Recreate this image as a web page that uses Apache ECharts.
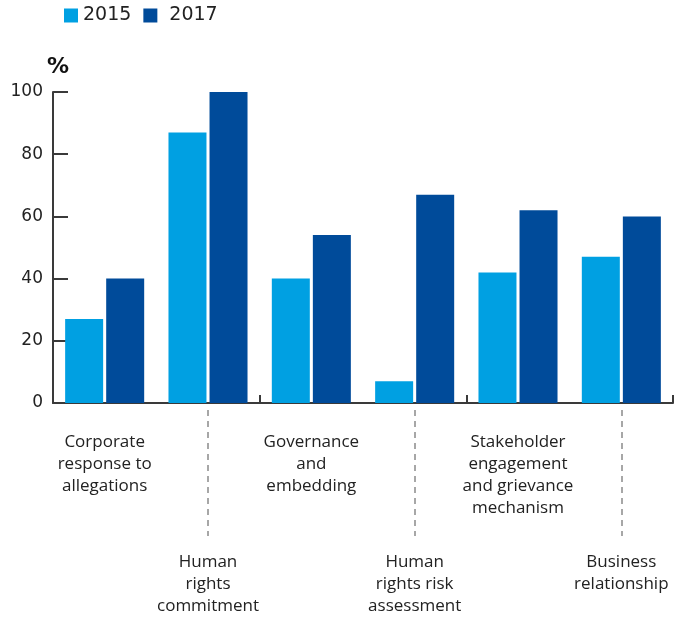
<!DOCTYPE html>
<html>
<head>
<meta charset="utf-8">
<script src="https://cdn.jsdelivr.net/npm/echarts@6/dist/echarts.min.js"></script>
<style>
  html, body { margin: 0; padding: 0; background: #fff; }
  #chart { width: 675px; height: 618px; }
</style>
</head>
<body>
<div id="chart"></div>
<script>
// Human rights assessment scores by theme, 2015 vs 2017 (%)
const categories = [
  'Corporate\nresponse to\nallegations',
  'Human\nrights\ncommitment',
  'Governance\nand\nembedding',
  'Human\nrights risk\nassessment',
  'Stakeholder\nengagement\nand grievance\nmechanism',
  'Business\nrelationship'
];
const seriesNames = ['2015', '2017'];
const values2015 = [27, 87, 40, 7, 42, 47];
const values2017 = [40, 100, 54, 67, 62, 60];
const yTicks = { min: 0, max: 100, interval: 20 };

const chart = echarts.init(document.getElementById('chart'), null, { renderer: 'canvas' });

const labelFont = { fontFamily: 'Open Sans', fontSize: 17, color: '#222', lineHeight: 22 };

chart.setOption({
  animation: false,
  legend: {
    left: 64,
    top: 6,
    padding: 0,
    itemWidth: 14,
    itemHeight: 14,
    itemGap: 12,
    icon: 'rect',
    textStyle: { fontFamily: 'DejaVu Sans', fontSize: 19, color: '#222', padding: [0, 0, 0, 0] },
    data: [
      { name: seriesNames[0] },
      { name: seriesNames[1], textStyle: { padding: [0, 0, 0, 7] } }
    ]
  },
  grid: { left: 53, right: 2, top: 92, bottom: 215, containLabel: false },
  xAxis: [
    {
      type: 'category',
      data: categories,
      position: 'bottom',
      axisLine: { show: true, lineStyle: { color: '#3a3a3a', width: 2 } },
      axisTick: { show: true, inside: true, length: 8, lineStyle: { color: '#3a3a3a', width: 2 } },
      axisLabel: {
        ...labelFont,
        margin: 28,
        verticalAlign: 'top',
        interval: (i) => i % 2 === 0
      }
    },
    {
      type: 'category',
      data: categories,
      position: 'bottom',
      offset: 7,
      axisLine: { show: false },
      axisTick: {
        show: true,
        alignWithLabel: true,
        length: 126,
        interval: (i) => i % 2 === 1,
        lineStyle: { color: '#8a8a8a', width: 1.5, type: [6, 5] }
      },
      axisLabel: {
        ...labelFont,
        margin: 141,
        verticalAlign: 'top',
        interval: (i) => i % 2 === 1
      }
    }
  ],
  yAxis: {
    type: 'value',
    min: yTicks.min,
    max: yTicks.max,
    interval: yTicks.interval,
    name: '%',
    nameLocation: 'end',
    nameGap: 14,
    nameTextStyle: { fontFamily: 'DejaVu Sans', fontWeight: 'bold', fontSize: 22, color: '#111', padding: [0, 0, 0, 10] },
    axisLine: { show: true, lineStyle: { color: '#3a3a3a', width: 2 } },
    axisTick: { show: true, inside: true, length: 15, lineStyle: { color: '#3a3a3a', width: 2 } },
    axisLabel: { fontFamily: 'DejaVu Sans', fontSize: 17, color: '#222', margin: 10 },
    splitLine: { show: false }
  },
  series: [
    {
      name: seriesNames[0],
      type: 'bar',
      data: values2015,
      barWidth: 38,
      barGap: '8%',
      itemStyle: { color: '#00a0e2' }
    },
    {
      name: seriesNames[1],
      type: 'bar',
      data: values2017,
      barWidth: 38,
      barGap: '8%',
      itemStyle: { color: '#004b9a' }
    }
  ]
});
</script>
</body>
</html>
